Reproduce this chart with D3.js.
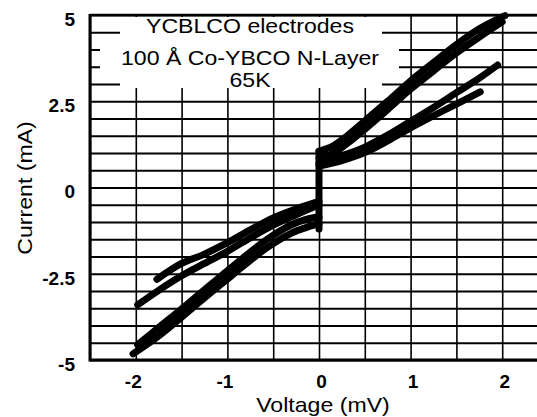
<!DOCTYPE html>
<html>
<head>
<meta charset="utf-8">
<script src="https://cdn.jsdelivr.net/npm/d3@7"></script>
<style>
  body { margin: 0; background: #fff; }
  text { font-family: "Liberation Sans", Arial, Helvetica, sans-serif; fill: #000; }
</style>
</head>
<body>
<svg class="chart" width="537" height="417"></svg>
<script>
// I-V traces (voltage mV, current mA)
var aUp1 = [[0,1.05],[0.15,1.2],[0.3,1.48],[0.5,1.93],[0.75,2.5],[1.0,3.09],[1.25,3.62],[1.5,4.14],[1.75,4.6],[2.03,4.98]];
var aUp2 = [[0,0.85],[0.15,0.98],[0.3,1.26],[0.5,1.69],[0.75,2.26],[1.0,2.85],[1.25,3.38],[1.5,3.9],[1.75,4.36],[2.0,4.8]];
var bUp1 = [[0,0.62],[0.25,0.78],[0.5,1.01],[0.75,1.35],[1.0,1.73],[1.25,2.08],[1.5,2.42],[1.76,2.77]];
var bUp2 = [[0,0.7],[0.25,0.92],[0.5,1.17],[0.75,1.52],[1.0,1.92],[1.25,2.32],[1.5,2.75],[1.75,3.17],[1.95,3.55]];
var aDn1 = [[0,-0.85],[-0.15,-0.93],[-0.3,-1.08],[-0.56,-1.49],[-0.8,-1.98],[-1.03,-2.48],[-1.25,-2.96],[-1.5,-3.52],[-1.75,-4.06],[-1.98,-4.56]];
var aDn2 = [[0,-1.05],[-0.15,-1.17],[-0.3,-1.32],[-0.56,-1.73],[-0.8,-2.22],[-1.03,-2.72],[-1.25,-3.2],[-1.5,-3.76],[-1.75,-4.3],[-2.03,-4.82]];
var bDn1 = [[0,-0.4],[-0.25,-0.62],[-0.5,-0.88],[-0.75,-1.23],[-1.0,-1.6],[-1.25,-1.93],[-1.5,-2.2],[-1.77,-2.66]];
var bDn2 = [[0,-0.5],[-0.25,-0.79],[-0.5,-1.09],[-0.75,-1.46],[-1.0,-1.85],[-1.25,-2.2],[-1.5,-2.56],[-1.75,-2.98],[-1.98,-3.4]];
var jump = [[0,-1.2],[0,1.05]];

var traces = [aUp1, aUp2, bUp1, bUp2, aDn1, aDn2, bDn1, bDn2, jump];

var xGrid = d3.range(-2.5, 2.51, 0.5);
var yGrid = d3.range(-5, 5.01, 0.5);
var xLabels = [-2, -1, 0, 1, 2];
var yLabels = [-5, -2.5, 0, 2.5, 5];
var noteLines = ["YCBLCO electrodes", "100 Å Co-YBCO N-Layer", "65K"];

var svg = d3.select('.chart');
var x = d3.scaleLinear().domain([-2.5, 2.5]).range([90, 548]);
var y = d3.scaleLinear().domain([-5, 5]).range([360, 15]);

// stretch text a little sideways, the scan's lettering is wider than Arial
function widen(sel, k) {
  sel.each(function() {
    var len = this.getComputedTextLength();
    d3.select(this).attr('textLength', len * k).attr('lengthAdjust', 'spacingAndGlyphs');
  });
}

//Grid
var gx = svg.append('g')
  .attr('transform', 'translate(' + [0, 360] + ')')
  .call(d3.axisBottom(x).tickValues(xGrid).tickSize(-345).tickFormat(''));
gx.select('.domain').remove();
gx.selectAll('line').attr('stroke', '#000').attr('stroke-width', 1.6);

var gy = svg.append('g')
  .attr('transform', 'translate(' + [90, 0] + ')')
  .call(d3.axisLeft(y).tickValues(yGrid).tickSize(-460).tickFormat(''));
gy.select('.domain').remove();
gy.selectAll('line').attr('stroke', '#000').attr('stroke-width', 2);

//white box behind the note
svg.append('rect').attr('x', 120).attr('y', 17).attr('width', 262).attr('height', 71).attr('fill', '#fff');
svg.append('rect').attr('x', 100).attr('y', 38).attr('width', 299).attr('height', 38).attr('fill', '#fff');

//Traces
var line = d3.line()
  .x(function(d) { return x(d[0]); })
  .y(function(d) { return y(d[1]); })
  .curve(d3.curveCatmullRom.alpha(0.5));

svg.append('g').selectAll('path')
  .data(traces)
  .enter().append('path')
  .attr('d', line)
  .attr('fill', 'none')
  .attr('stroke', '#000')
  .attr('stroke-width', 7)
  .attr('stroke-linecap', 'round')
  .attr('stroke-linejoin', 'round');

//Frame
svg.append('line').attr('x1', x(-2.5)).attr('x2', 537).attr('y1', y(5)).attr('y2', y(5))
  .attr('stroke', '#000').attr('stroke-width', 2.5);
svg.append('line').attr('x1', x(-2.5)).attr('x2', 537).attr('y1', y(-5)).attr('y2', y(-5))
  .attr('stroke', '#000').attr('stroke-width', 3);
svg.append('line').attr('x1', x(-2.5)).attr('x2', x(-2.5)).attr('y1', y(5) - 1).attr('y2', y(-5) + 1.5)
  .attr('stroke', '#000').attr('stroke-width', 3);

//Tick labels
var ax = svg.append('g')
  .attr('transform', 'translate(' + [0, 360] + ')')
  .call(d3.axisBottom(x).tickValues(xLabels).tickSize(0).tickPadding(15).tickFormat(function(d) { return String(d); }));
ax.select('.domain').remove();
ax.selectAll('text')
  .attr('font-size', 19).attr('font-weight', 'bold')
  .attr('font-family', '"Liberation Sans", Arial, sans-serif')
  .attr('dx', function(d) { return d < 0 ? -3 : 2; });

var ay = svg.append('g')
  .attr('transform', 'translate(' + [90, 0] + ')')
  .call(d3.axisLeft(y).tickValues(yLabels).tickSize(0).tickPadding(15).tickFormat(function(d) { return String(d); }));
ay.select('.domain').remove();
ay.selectAll('text')
  .attr('font-size', 19).attr('font-weight', 'bold')
  .attr('font-family', '"Liberation Sans", Arial, sans-serif')
  .attr('dy', '0.55em');

//Axis titles
svg.append('text')
  .attr('x', 323).attr('y', 412)
  .attr('text-anchor', 'middle')
  .attr('font-size', 21)
  .text('Voltage (mV)')
  .call(widen, 1.1);

svg.append('text')
  .attr('transform', 'translate(' + [32, 188] + ') rotate(-90)')
  .attr('text-anchor', 'middle')
  .attr('font-size', 21)
  .text('Current (mA)')
  .call(widen, 1.1);

//Note
svg.selectAll('.note')
  .data(noteLines)
  .enter().append('text')
  .attr('class', 'note')
  .attr('x', 250)
  .attr('y', function(d, i) { return [33, 65, 87][i]; })
  .attr('text-anchor', 'middle')
  .attr('font-size', 21)
  .text(function(d) { return d; })
  .call(widen, 1.1);
</script>
</body>
</html>
